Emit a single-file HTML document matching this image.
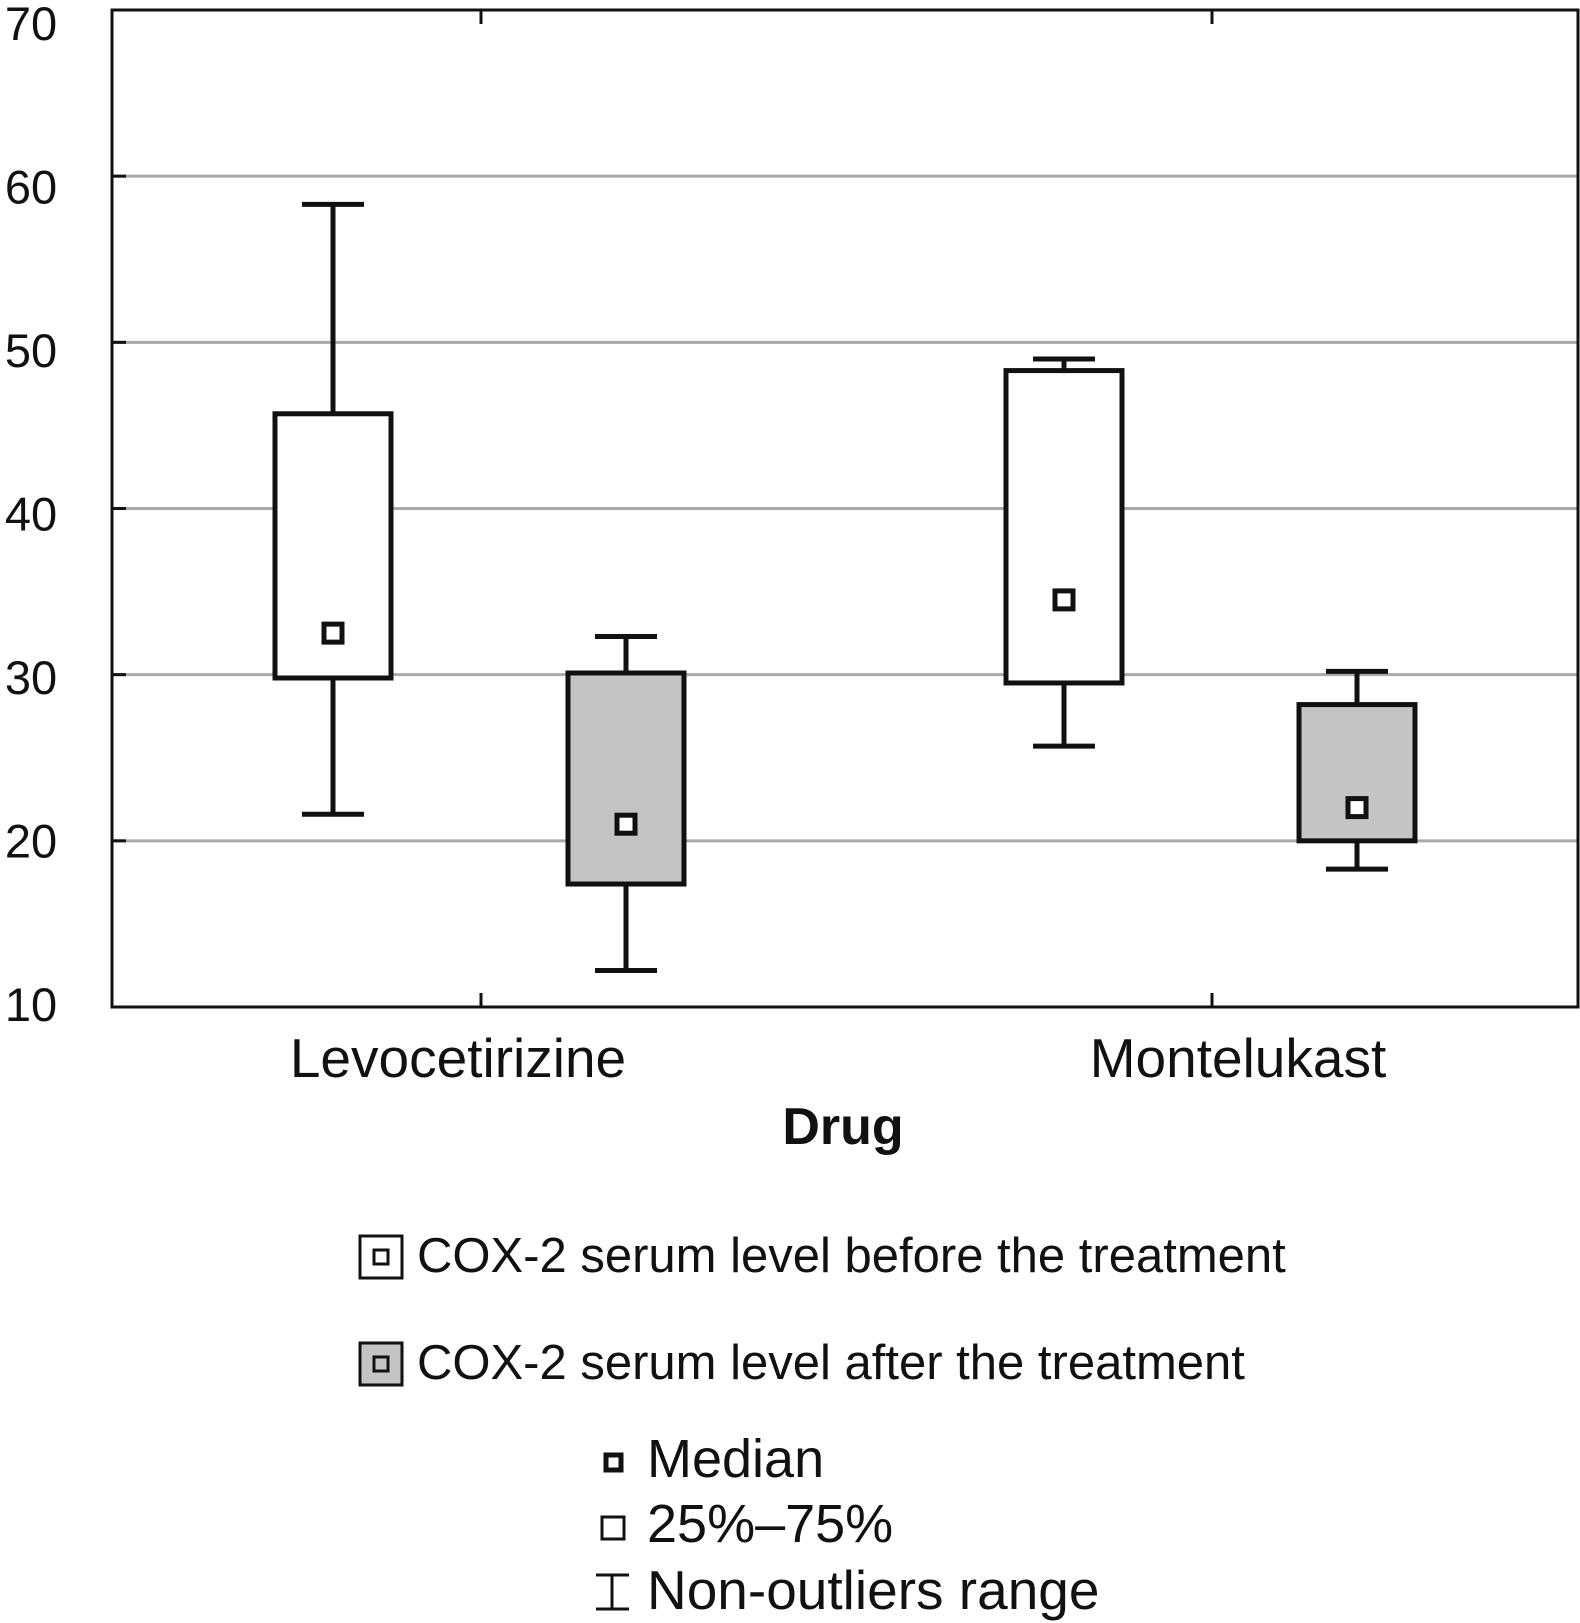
<!DOCTYPE html>
<html><head><meta charset="utf-8"><style>
html,body{margin:0;padding:0;background:#fff}
svg{display:block}
text{font-family:"Liberation Sans",sans-serif;fill:#111}
</style></head><body>
<svg id="chart" width="1580" height="1623" viewBox="0 0 1580 1623"></svg>
<script>
const yTicks=[10,20,30,40,50,60,70];
const categories=["Levocetirizine","Montelukast"];
const seriesNames=["COX-2 serum level before the treatment","COX-2 serum level after the treatment"];
const beforeStats=[[21.6,29.8,32.5,45.7,58.3],[25.7,29.5,34.5,48.3,49.0]];
const afterStats=[[12.2,17.4,21.0,30.1,32.3],[18.3,20.0,22.0,28.2,30.2]];
const NS="http://www.w3.org/2000/svg";
const svg=document.getElementById('chart');
const L=112,R=1578,T=10,B=1007;
function y(v){return B-(v-10)/(70-10)*(B-T);}
function yLab(v){return 1004-(v-10)/60*981;}
const catX=[481,1212];
function xCat(i){return catX[0]+i*(catX[1]-catX[0]);}
function mk(tag,at,parent){const e=document.createElementNS(NS,tag);for(const k in at)e.setAttribute(k,at[k]);(parent||svg).appendChild(e);return e;}
yTicks.forEach(t=>{
  if(t>10&&t<70){const g=mk('line',{x1:L,x2:R,y1:y(t),y2:y(t),stroke:'#aaa','stroke-width':3});
  
  }
  const tk=mk('line',{x1:L,x2:L+14,y1:y(t),y2:y(t),stroke:'#111','stroke-width':3});
  
  
  const lb=mk('text',{x:31,y:yLab(t)+17,'text-anchor':'middle','font-size':47});
  lb.textContent=t;
  
  
});
const fr=mk('rect',{x:L,y:T,width:R-L,height:B-T,fill:'none',stroke:'#111','stroke-width':3});


const labelX=[458,1238];
categories.forEach((c,i)=>{
  const cx=xCat(i);
  [[T,T+14],[B-14,B]].forEach(([a,b])=>{const tk=mk('line',{x1:cx,x2:cx,y1:a,y2:b,stroke:'#111','stroke-width':3});
  
  });
  const lb=mk('text',{x:labelX[i],y:1077,'text-anchor':'middle','font-size':55});
  lb.textContent=c;
  
  
});
function drawBox(st,cx,fill,name){
  const g=mk('g',{});
  
  
  const [lo,q1,md,q3,hi]=st;
  mk('line',{x1:cx,x2:cx,y1:y(hi),y2:y(q3),stroke:'#111','stroke-width':5},g);
  mk('line',{x1:cx,x2:cx,y1:y(q1),y2:y(lo),stroke:'#111','stroke-width':5},g);
  mk('line',{x1:cx-31,x2:cx+31,y1:y(hi),y2:y(hi),stroke:'#111','stroke-width':5},g);
  mk('line',{x1:cx-31,x2:cx+31,y1:y(lo),y2:y(lo),stroke:'#111','stroke-width':5},g);
  mk('rect',{x:cx-58,y:y(q3),width:116,height:y(q1)-y(q3),fill:fill,stroke:'#111','stroke-width':5},g);
  mk('rect',{x:cx-9,y:y(md)-9,width:18,height:18,fill:'#fff',stroke:'#111','stroke-width':5},g);
}
categories.forEach((c,i)=>{
  drawBox(beforeStats[i],xCat(i)-148,'#fff','box-before-'+c.toLowerCase());
  drawBox(afterStats[i],xCat(i)+145,'#c4c4c4','box-after-'+c.toLowerCase());
});
const xt=mk('text',{x:843,y:1144,'text-anchor':'middle','font-size':52,'font-weight':'bold'});
xt.textContent='Drug';


[[1236,'#fff'],[1343,'#c4c4c4']].forEach(([yy,f],i)=>{
  const g=mk('g',{});
  
  
  mk('rect',{x:360,y:yy,width:42,height:42,fill:f,stroke:'#111','stroke-width':3},g);
  mk('rect',{x:374,y:yy+14,width:14,height:14,fill:f,stroke:'#111','stroke-width':3},g);
  const t=mk('text',{x:417,y:yy+36,'font-size':49},g);t.textContent=seriesNames[i];
});
const g2=mk('g',{});


mk('rect',{x:606,y:1455,width:15,height:15,fill:'#fff',stroke:'#111','stroke-width':5},g2);
let t=mk('text',{x:647,y:1477,'font-size':54},g2);t.textContent='Median';
mk('rect',{x:602,y:1517,width:22,height:22,fill:'#fff',stroke:'#111','stroke-width':3},g2);
t=mk('text',{x:647,y:1542,'font-size':54},g2);t.textContent='25%–75%';
mk('line',{x1:596,x2:629,y1:1575,y2:1575,stroke:'#111','stroke-width':3},g2);
mk('line',{x1:596,x2:629,y1:1609,y2:1609,stroke:'#111','stroke-width':3},g2);
mk('line',{x1:612,x2:612,y1:1575,y2:1609,stroke:'#111','stroke-width':3},g2);
t=mk('text',{x:647,y:1609,'font-size':55},g2);t.textContent='Non-outliers range';
</script>
</body></html>
